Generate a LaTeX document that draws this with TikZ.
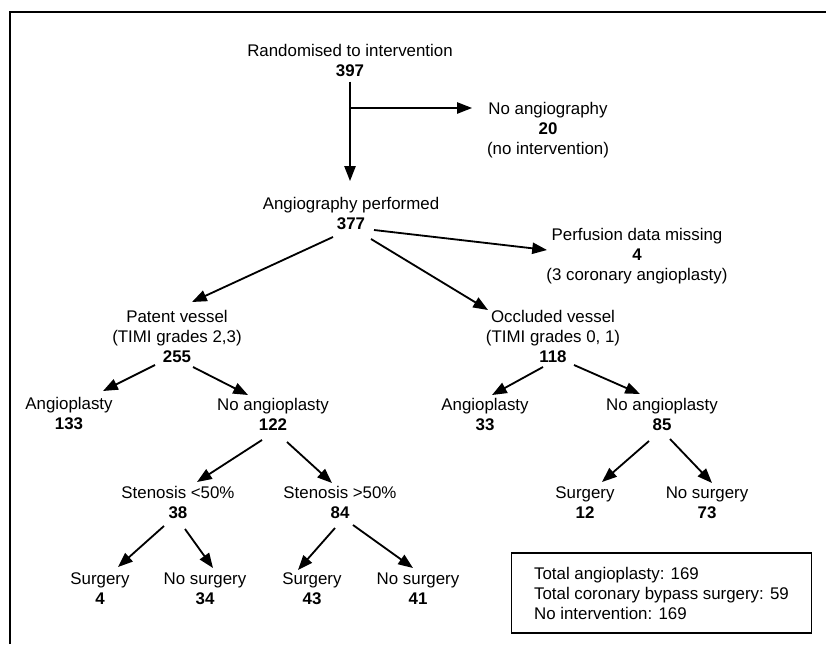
\documentclass[tikz,border=0pt]{standalone}
\usepackage{fontspec}
\setmainfont{Liberation Sans}
\usetikzlibrary{arrows.meta,calc}

\begin{document}
\begin{tikzpicture}[x=0.025cm, y=-0.025cm,
    lbl/.style={align=center, inner sep=0pt, font=\fontsize{12}{14.2}\selectfont},
    arr/.style={-{Triangle[length=10.5pt, width=8pt]}, line width=1.3pt},
    thinarr/.style={-{Triangle[length=10.5pt, width=8pt]}, line width=0.9pt}]
    \useasboundingbox (0,0) rectangle (826,644);
    % frame (cut at right and bottom)
    \draw[line width=1pt] (10,644) -- (10,12) -- (826,12);

    \node[lbl] (rand)    at (350, 60.5) {Randomised to intervention\\ \textbf{397}};
    \node[lbl] (noang)   at (548, 130)  {No angiography\\ \textbf{20}\\ (no intervention)};
    \node[lbl] (angperf) at (351, 213)  {Angiography performed\\ \textbf{377}};
    \node[lbl] (perf)    at (637, 256)  {Perfusion data missing\\ \textbf{4}\\ (3 coronary angioplasty)};
    \node[lbl] (patent)  at (177, 336)  {Patent vessel\\ (TIMI grades 2,3)\\ \textbf{255}};
    \node[lbl] (occl)    at (553, 336)  {Occluded vessel\\ (TIMI grades 0, 1)\\ \textbf{118}};
    \node[lbl] (angA)    at (69, 413)   {Angioplasty\\ \textbf{133}};
    \node[lbl] (noangA)  at (273, 414)  {No angioplasty\\ \textbf{122}};
    \node[lbl] (angB)    at (485, 414)  {Angioplasty\\ \textbf{33}};
    \node[lbl] (noangB)  at (662, 414)  {No angioplasty\\ \textbf{85}};
    \node[lbl] (stenlo)  at (178, 502.5) {Stenosis {<}50\%\\ \textbf{38}};
    \node[lbl] (stenhi)  at (340, 502.5) {Stenosis {>}50\%\\ \textbf{84}};
    \node[lbl] (surgB)   at (585, 502.5) {Surgery\\ \textbf{12}};
    \node[lbl] (nosurgB) at (707, 502.5) {No surgery\\ \textbf{73}};
    \node[lbl] (surgLo)  at (100, 589)  {Surgery\\ \textbf{4}};
    \node[lbl] (nosurgLo) at (205, 589) {No surgery\\ \textbf{34}};
    \node[lbl] (surgHi)  at (312, 589)  {Surgery\\ \textbf{43}};
    \node[lbl] (nosurgHi) at (418, 589) {No surgery\\ \textbf{41}};

    % totals
    \node[lbl, draw, line width=1pt, align=left, minimum width=7.5cm, minimum height=2cm]
        (tot) at (661.5, 593)
        {Total angioplasty: 169\\ Total coronary bypass surgery: 59\\ No intervention: 169};

    % top arrows
    \coordinate (br) at (350, 108);
    \draw[thinarr] ($(rand)+(0,21)$) -- ($(angperf)+(-1,-32)$);
    \draw[thinarr] (br) -- ($(noang)+(-76,-22)$);

    % tree arrows
    \foreach \a/\ax/\ay/\b/\bx/\by in {
        angperf/23/17/perf/-90/-6,
        angperf/-18/24/patent/15/-34,
        angperf/20/26/occl/-65/-26,
        patent/-22/29/angA/34/-22,
        patent/16/31/noangA/-25/-19,
        noangA/-11/26/stenlo/19/-20.5,
        noangA/14/28/stenhi/-8/-19.5,
        stenlo/-14/23.5/surgLo/18/-22,
        stenlo/7/26.5/nosurgLo/8/-21,
        stenhi/-5/25.5/surgHi/-14/-19,
        stenhi/13/22.5/nosurgHi/-5/-21,
        occl/-10/31/angB/7/-19,
        occl/21/29/noangB/-22/-20,
        noangB/-13/27/surgB/17/-20.5,
        noangB/8/25/nosurgB/5/-19.5}
        \draw[arr] ($(\a)+(\ax,\ay)$) -- ($(\b)+(\bx,\by)$);
\end{tikzpicture}
\end{document}
